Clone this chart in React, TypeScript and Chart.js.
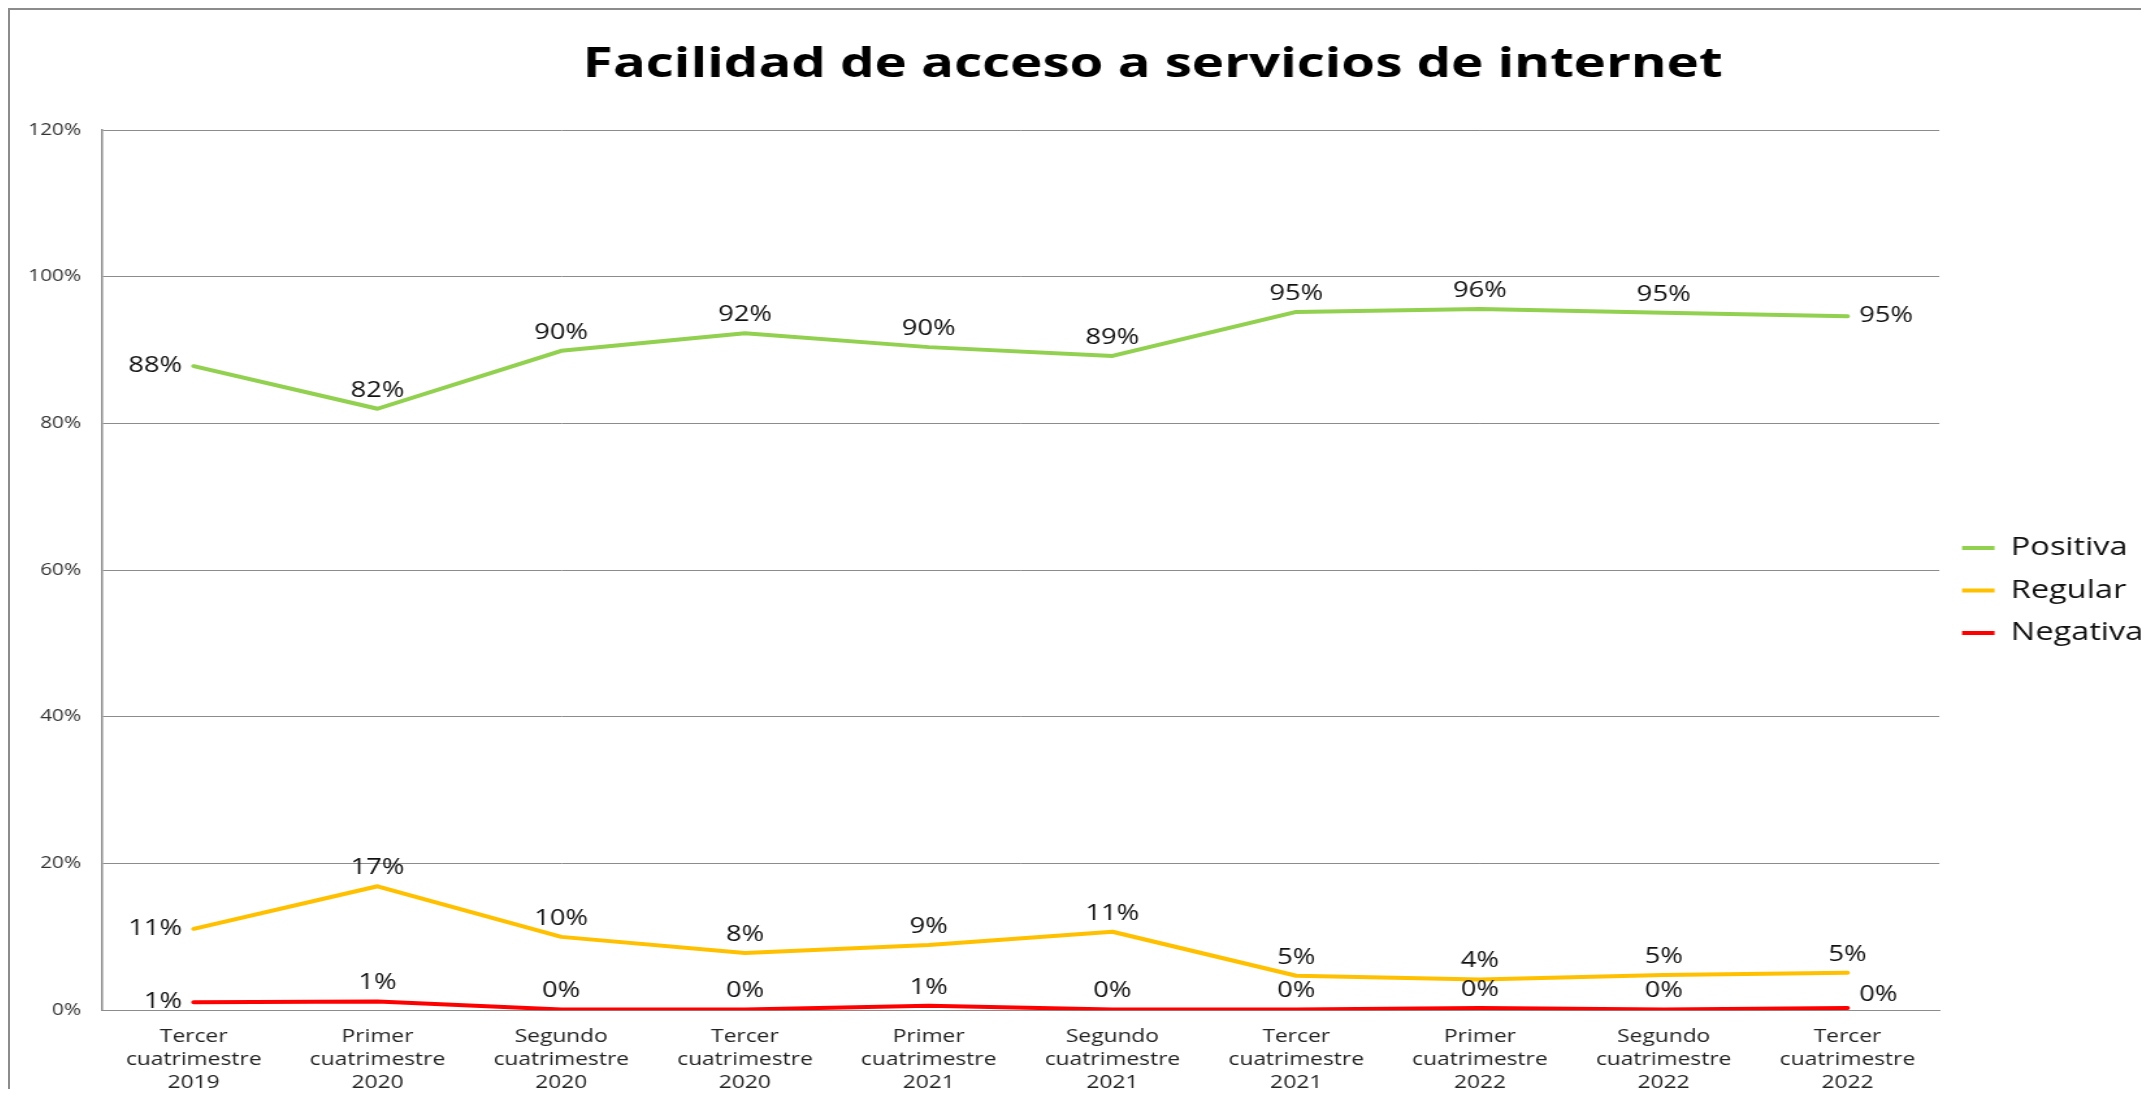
import React, { useEffect, useRef } from 'react';
import { Chart, registerables } from 'chart.js';

Chart.register(...registerables);

const chartTitle = 'Facilidad de acceso a servicios de internet';

const categories: string[][] = [
  ['Tercer', 'cuatrimestre', '2019'],
  ['Primer', 'cuatrimestre', '2020'],
  ['Segundo', 'cuatrimestre', '2020'],
  ['Tercer', 'cuatrimestre', '2020'],
  ['Primer', 'cuatrimestre', '2021'],
  ['Segundo', 'cuatrimestre', '2021'],
  ['Tercer', 'cuatrimestre', '2021'],
  ['Primer', 'cuatrimestre', '2022'],
  ['Segundo', 'cuatrimestre', '2022'],
  ['Tercer', 'cuatrimestre', '2022'],
];

const seriesNames = ['Positiva', 'Regular', 'Negativa'];
const positiva = [0.878, 0.82, 0.899, 0.923, 0.904, 0.892, 0.952, 0.956, 0.951, 0.946];
const regular = [0.111, 0.169, 0.1, 0.078, 0.089, 0.107, 0.047, 0.042, 0.048, 0.051];
const negativa = [0.011, 0.012, 0.001, 0.001, 0.006, 0.001, 0.001, 0.003, 0.001, 0.003];

const yTicks = [0, 0.2, 0.4, 0.6, 0.8, 1.0, 1.2];

// label placement (style, not data)
const labelPlacement: string[][] = [
  ['left', 'above', 'above', 'above', 'above', 'above', 'above', 'above', 'above', 'right'],
  ['left', 'above', 'above', 'above', 'above', 'above', 'above', 'above', 'above', 'above'],
  ['left', 'above', 'above', 'above', 'above', 'above', 'above', 'above', 'above', 'upright'],
];

const colors = ['#92D050', '#FFC000', '#FF0000'];
const FONT = '"Open Sans", sans-serif';
const STRETCH = 1.3;
const CANVAS_W = 1760;
const CANVAS_H = 1079;

const pct = (v: number) => Math.round(v * 100) + '%';

const valueLabels = {
  id: 'valueLabels',
  afterDatasetsDraw(chart: any) {
    const ctx = chart.ctx;
    ctx.save();
    ctx.font = `21px ${FONT}`;
    ctx.fillStyle = '#111111';
    ctx.textBaseline = 'middle';
    chart.data.datasets.forEach((ds: any, di: number) => {
      const meta = chart.getDatasetMeta(di);
      meta.data.forEach((pt: any, i: number) => {
        const pos = labelPlacement[di][i];
        const text = pct(ds.data[i]);
        let x = pt.x;
        let y = pt.y;
        if (pos === 'left') {
          ctx.textAlign = 'right';
          x -= 9;
        } else if (pos === 'right') {
          ctx.textAlign = 'left';
          x += 9;
        } else if (pos === 'upright') {
          ctx.textAlign = 'left';
          x += 9;
          y -= 13;
        } else {
          ctx.textAlign = 'center';
          y -= 18;
        }
        ctx.fillText(text, x, y);
      });
    });
    ctx.restore();
  },
};

export default function App() {
  const canvasRef = useRef<HTMLCanvasElement | null>(null);

  useEffect(() => {
    if (!canvasRef.current) return;
    const series = [positiva, regular, negativa];
    const chart = new Chart(canvasRef.current, {
      type: 'line',
      data: {
        labels: categories,
        datasets: series.map((d, i) => ({
          label: seriesNames[i],
          data: d,
          borderColor: colors[i],
          backgroundColor: colors[i],
          borderWidth: 4,
          pointRadius: 0,
          pointHoverRadius: 0,
          tension: 0,
          fill: false,
          borderCapStyle: 'round',
          borderJoinStyle: 'round',
        })),
      },
      options: {
        responsive: false,
        animation: false,
        devicePixelRatio: 1,
        layout: { padding: { left: -2, right: 0, top: 0, bottom: -20 } },
        plugins: {
          title: {
            display: true,
            text: chartTitle,
            color: '#000000',
            font: { family: FONT, size: 42, weight: 'bold', lineHeight: 1.2 },
            padding: { top: 30.2, bottom: 39.4 },
          },
          legend: {
            display: true,
            position: 'right',
            fullSize: false,
            align: 'center',
            title: { display: true, text: '', padding: { top: 31, bottom: 0 }, font: { size: 10, lineHeight: 1 } },
            labels: {
              usePointStyle: true,
              pointStyle: 'line',
              pointStyleWidth: 25,
              padding: 17.5,
              color: '#111111',
              font: { family: FONT, size: 25 },
            },
          },
          tooltip: { enabled: false },
        },
        scales: {
          x: {
            type: 'category',
            offset: true,
            grid: { display: false, drawTicks: false },
            border: { display: true, color: '#8c8c8c', width: 1 },
            ticks: {
              autoSkip: false,
              maxRotation: 0,
              minRotation: 0,
              padding: 15,
              color: '#222222',
              font: { family: FONT, size: 17.5, lineHeight: 1.31 },
            },
          },
          y: {
            min: 0,
            max: 1.2,
            afterBuildTicks: (axis: any) => {
              axis.ticks = yTicks.map((v) => ({ value: v }));
            },
            grid: { display: true, color: '#8c8c8c', lineWidth: 1, drawTicks: false },
            border: { display: true, color: '#8c8c8c', width: 1.5 },
            ticks: {
              padding: 16,
              color: '#333333',
              font: { family: FONT, size: 16 },
              callback: (v: any) => pct(Number(v)),
            },
          },
          // empty right-hand space of the original chart frame (beyond the legend)
          spacer: {
            type: 'linear',
            position: 'right',
            weight: 2000,
            display: true,
            grid: { display: false, drawTicks: false },
            border: { display: false },
            ticks: { display: false },
            afterFit: (s: any) => {
              s.width = 109;
            },
          },
        },
      },
      plugins: [valueLabels],
    } as any);
    return () => chart.destroy();
  }, []);

  return (
    <div
      style={{
        width: 2141,
        height: 1081,
        boxSizing: 'border-box',
        borderLeft: '2px solid #8c8c8c',
        borderTop: '2px solid #8c8c8c',
        overflow: 'hidden',
        background: '#ffffff',
      }}
    >
      <div
        style={{
          width: CANVAS_W,
          height: CANVAS_H,
          transform: `scaleX(${STRETCH})`,
          transformOrigin: '0 0',
        }}
      >
        <canvas ref={canvasRef} width={CANVAS_W} height={CANVAS_H} style={{ display: 'block' }} />
      </div>
    </div>
  );
}
